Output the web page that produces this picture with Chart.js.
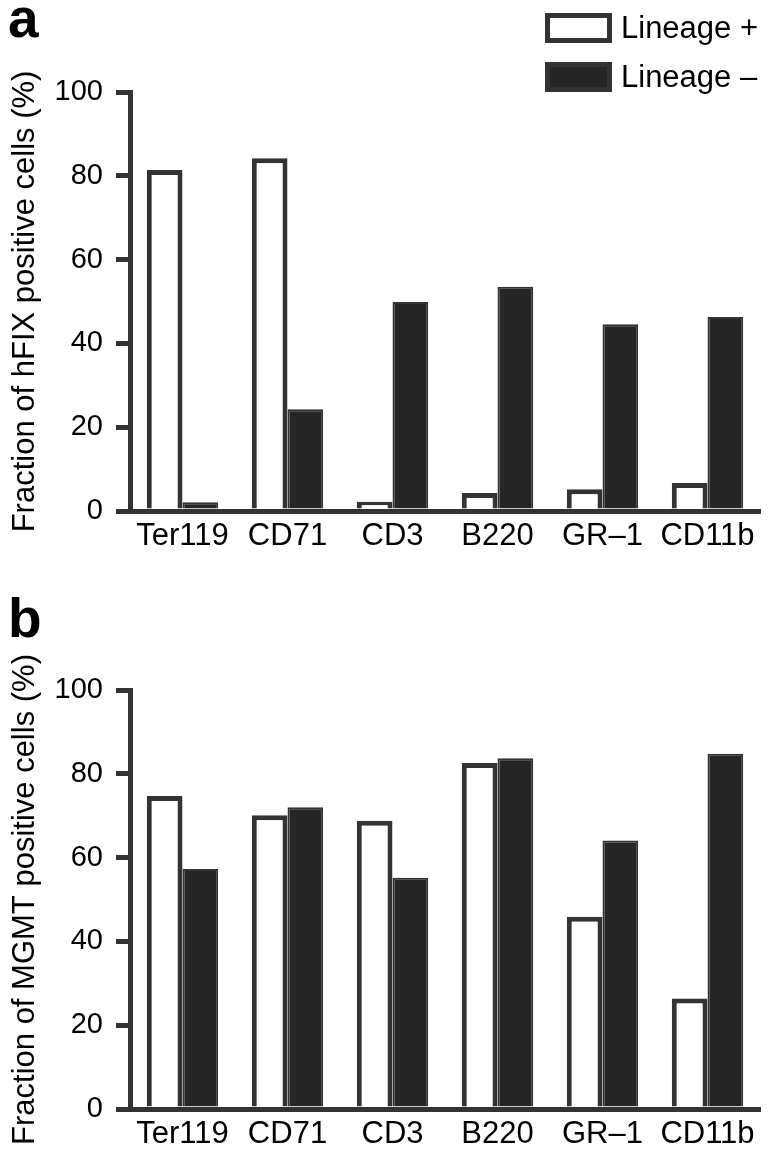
<!DOCTYPE html>
<html>
<head>
<meta charset="utf-8">
<script src="https://cdn.jsdelivr.net/npm/chart.js@4.4.1/dist/chart.umd.min.js"></script>
<style>
  html, body { margin: 0; padding: 0; background: #fff; }
  #wrap { position: relative; width: 773px; height: 1156px; }
  #wrap canvas { position: absolute; left: 0; }
</style>
</head>
<body>
<div id="wrap">
  <canvas id="chartA" width="773" height="560" style="top:0"></canvas>
  <canvas id="chartB" width="773" height="596" style="top:560px"></canvas>
</div>
<script>
// data
var markers = ["Ter119", "CD71", "CD3", "B220", "GR\u20131", "CD11b"];
var seriesNames = ["Lineage +", "Lineage \u2013"];
var hfixLinPos = [81.4, 84.2, 2.2, 4.3, 5.2, 6.7];
var hfixLinNeg = [2.1, 24.3, 49.9, 53.5, 44.6, 46.3];
var mgmtLinPos = [74.7, 70.1, 68.8, 82.6, 45.9, 26.4];
var mgmtLinNeg = [57.3, 72.0, 55.2, 83.7, 64.1, 84.8];
var yTicks = [0, 20, 40, 60, 80, 100];

var FONT = "'Liberation Sans', Arial, Helvetica, sans-serif";
var AXIS = "#333";
var DARK = "#262626";

// panel letter, rotated y title and the little legend
var panelDecor = {
  id: "panelDecor",
  afterDraw: function (chart, args, opts) {
    var ctx = chart.ctx;
    var area = chart.chartArea;
    ctx.save();
    ctx.fillStyle = "#000";
    ctx.font = "bold 55px " + FONT;
    ctx.textAlign = "left";
    ctx.textBaseline = "alphabetic";
    ctx.fillText(opts.letter, 8, opts.letterY);

    ctx.font = "31px " + FONT;
    ctx.textAlign = "center";
    ctx.textBaseline = "middle";
    ctx.translate(25, (area.top + area.bottom) / 2);
    ctx.rotate(-Math.PI / 2);
    ctx.fillText(opts.yTitle, 0, 0);
    ctx.restore();

    if (!opts.legend) return;
    ctx.save();
    chart.data.datasets.forEach(function (ds, i) {
      var y = 13 + i * 49;
      ctx.fillStyle = ds.backgroundColor;
      ctx.fillRect(545, y, 67, 30);
      ctx.strokeStyle = AXIS;
      ctx.lineWidth = 5;
      ctx.strokeRect(547.5, y + 2.5, 62, 25);
      ctx.fillStyle = "#000";
      ctx.font = "31px " + FONT;
      ctx.textAlign = "left";
      ctx.textBaseline = "middle";
      ctx.fillText(ds.label, 621, y + 16);
    });
    ctx.restore();
  }
};

function makeChart(id, pos, neg, decor, padTop, padBottom) {
  return new Chart(document.getElementById(id), {
    type: "bar",
    data: {
      labels: markers,
      datasets: [
        {
          label: seriesNames[0],
          data: pos,
          backgroundColor: "#ffffff",
          borderColor: AXIS,
          borderWidth: 5,
        },
        {
          label: seriesNames[1],
          data: neg,
          backgroundColor: DARK,
          borderColor: AXIS,
          borderWidth: 2,
        },
      ],
    },
    plugins: [panelDecor],
    options: {
      responsive: false,
      animation: false,
      layout: { padding: { left: 0, right: 13, top: padTop, bottom: padBottom } },
      datasets: { bar: { barPercentage: 1, categoryPercentage: 0.68 } },
      plugins: {
        legend: { display: false },
        tooltip: { enabled: false },
        panelDecor: decor,
      },
      scales: {
        x: {
          grid: { display: false, drawTicks: false },
          border: { display: true, color: AXIS, width: 5 },
          ticks: { color: "#000", font: { family: FONT, size: 31 }, padding: 7 },
          afterFit: function (s) { s.height = 47; },
        },
        y: {
          min: 0,
          max: 100,
          afterBuildTicks: function (s) {
            s.ticks = yTicks.map(function (v) { return { value: v }; });
          },
          grid: {
            display: true,
            drawOnChartArea: false,
            drawTicks: true,
            tickLength: 14,
            lineWidth: 5,
            color: AXIS,
          },
          border: { display: true, color: AXIS, width: 5 },
          ticks: { color: "#000", font: { family: FONT, size: 29 }, padding: 13 },
          afterFit: function (s) { s.width = 130; },
        },
      },
    },
  });
}

makeChart("chartA", hfixLinPos, hfixLinNeg,
  { letter: "a", letterY: 37, yTitle: "Fraction of hFIX positive cells (%)", legend: true }, 92, 2);
makeChart("chartB", mgmtLinPos, mgmtLinNeg,
  { letter: "b", letterY: 77, yTitle: "Fraction of MGMT positive cells (%)", legend: false }, 130, 0);
</script>
</body>
</html>
